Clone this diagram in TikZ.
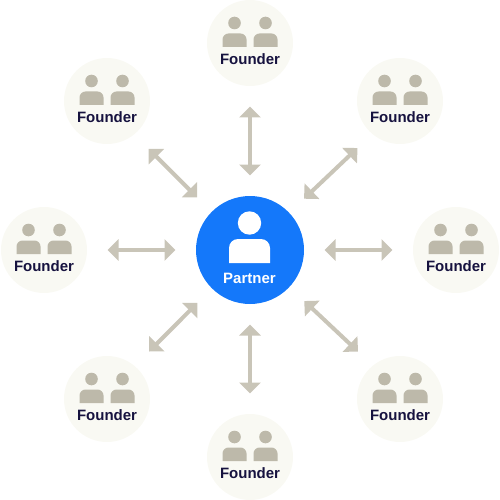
\documentclass[tikz,border=0pt]{standalone}
\usepackage{fontspec}
\setmainfont{Liberation Sans}
\usepackage{xcolor}
\usetikzlibrary{arrows.meta}
\definecolor{cPartner}{HTML}{1478FA}
\definecolor{cSoft}{HTML}{F9F9F3}
\definecolor{cIcon}{HTML}{BDB9AA}
\definecolor{cArrow}{HTML}{C9C5B8}
\definecolor{cInk}{HTML}{16123F}
\tikzset{
  founder/.style = {circle, fill=cSoft, minimum size=86pt, inner sep=0pt, outer sep=0pt},
  partner/.style = {circle, fill=cPartner, minimum size=108pt, inner sep=0pt, outer sep=0pt},
  flab/.style    = {font=\fontsize{15}{16}\selectfont\bfseries, text=cInk, inner sep=0pt},
  plab/.style    = {font=\fontsize{15}{16}\selectfont\bfseries, text=white, inner sep=0pt},
  fl/.style      = {{Triangle[length=11pt,width=21pt]}-{Triangle[length=11pt,width=21pt]},
                    draw=cArrow, line width=4pt, shorten >=20.5pt, shorten <=20.5pt},
  pics/person/.style = {code={
    \fill (0,-20) circle (6.3);
    \fill (-12,4) [rounded corners=6pt] -- (-12,-9.5) -- (12,-9.5) [sharp corners] -- (12,4) -- cycle;
  }},
}
\begin{document}
\begin{tikzpicture}[x=1pt, y=-1pt]
  \useasboundingbox (0,0) rectangle (500,500);
  \node[partner] (hub) at (250,250) {};
  % founders round the partner
  \foreach \name/\px/\py/\ang in {top/250/43/270, tr/400/101/230.7, rgt/456/250/180, br/400/399/129.3,
                                  bot/250/457/90, bl/107/399/50.7, lft/44/250/0, tl/107/101/309.3} {
    \node[founder] (\name) at (\px,\py) {};
    \pic[cIcon] at ([xshift=-15.5pt]\name.center) {person};
    \pic[cIcon] at ([xshift=15.5pt]\name.center) {person};
    \node[flab] (\name-lab) at ([yshift=-16pt]\name.center) {Founder};
    \draw[fl] (hub) -- (\name.\ang);
  }
  \fill[white] (249.5,223) circle (11.7);
  \fill[white] (229,263) [rounded corners=9pt] -- (229,239) -- (270,239) [sharp corners] -- (270,263) -- cycle;
  \node[plab] (hub-lab) at (249.5,278) {Partner};
\end{tikzpicture}
\end{document}
